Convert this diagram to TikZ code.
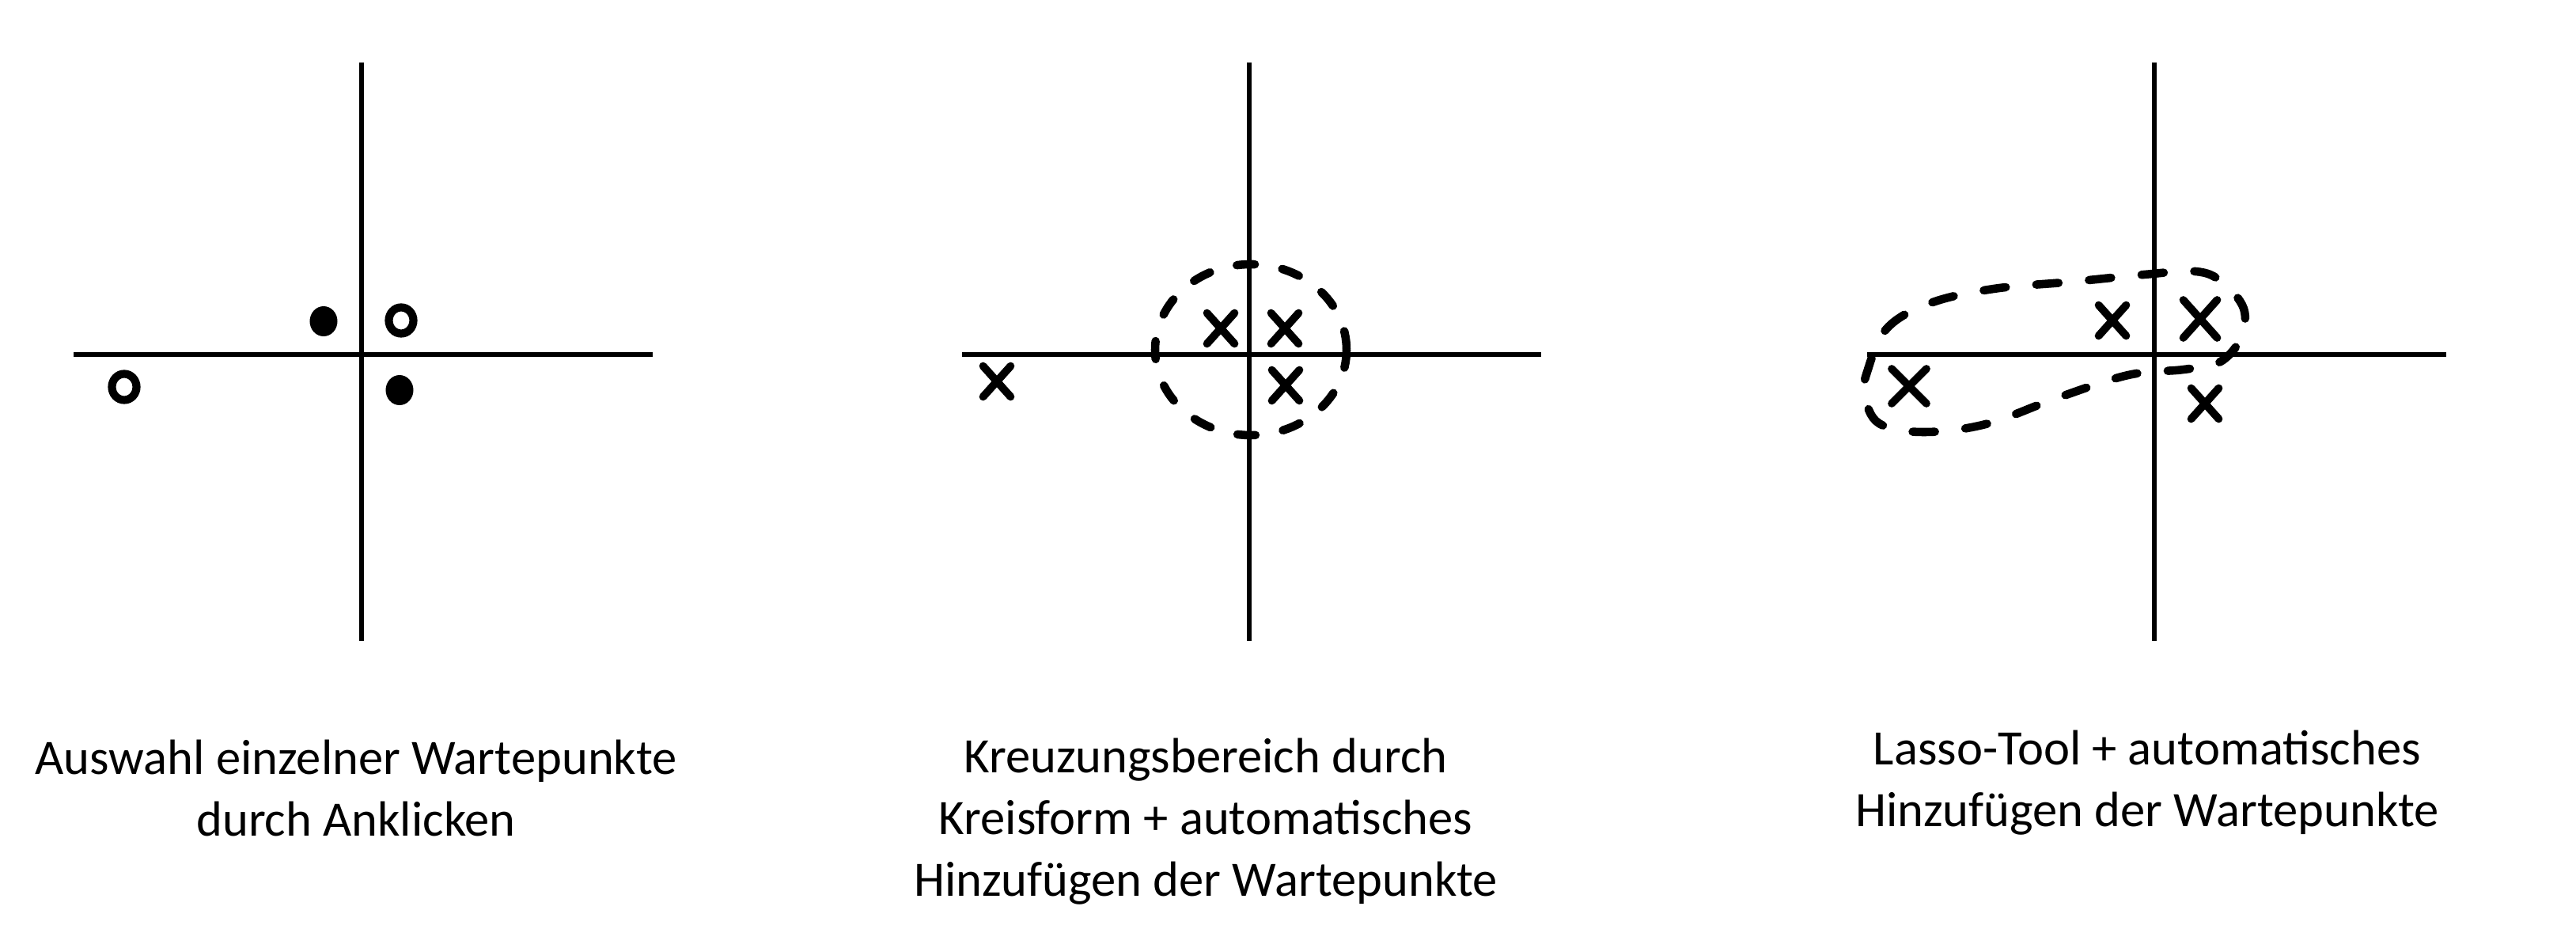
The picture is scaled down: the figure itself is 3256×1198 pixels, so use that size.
\documentclass[tikz,border=0pt]{standalone}
\usepackage{fontspec}
\setmainfont{Carlito}
\usetikzlibrary{shapes.misc,shapes.geometric}
\begin{document}
\begin{tikzpicture}[x=0.01cm,y=-0.01cm,
  axis/.style={line width=1.6pt},
  xmark/.style={cross out, draw, line width=2.8pt, line cap=round, minimum width=0.25cm, minimum height=0.29cm, inner sep=0pt},
  bigxmark/.style={xmark, minimum width=0.33cm, minimum height=0.38cm},
  fdot/.style={ellipse, fill, inner sep=0pt, minimum width=0.35cm, minimum height=0.38cm},
  odot/.style={ellipse, draw, line width=2.9pt, inner sep=0pt, minimum width=0.31cm, minimum height=0.33cm},
  lasso/.style={line width=3pt, line cap=round, dash pattern=on 7pt off 10pt},
  caption/.style={align=center, anchor=north, inner sep=0pt, font=\fontsize{17.8pt}{22.2pt}\selectfont}
]
\fill[white] (0,0) rectangle (3256,1198);
\useasboundingbox (0,0) rectangle (3256,1198);

% Panel 1
\coordinate (a1t) at (457,79); \coordinate (a1b) at (457,810);
\coordinate (a1l) at (93,448); \coordinate (a1r) at (825,448);
\draw[axis] (a1t) -- (a1b);
\draw[axis] (a1l) -- (a1r);
\node[fdot] (p1a) at (409,406) {};
\node[odot] (p1b) at (507,405) {};
\node[odot] (p1c) at (157,489) {};
\node[fdot] (p1d) at (505,493) {};
\node[caption] (t1) at (450,934) {Auswahl einzelner Wartepunkte\\durch Anklicken};

% Panel 2
\coordinate (a2t) at (1579,79); \coordinate (a2b) at (1579,810);
\coordinate (a2l) at (1216,448); \coordinate (a2r) at (1948,448);
\draw[axis] (a2t) -- (a2b);
\draw[axis] (a2l) -- (a2r);
\node[xmark] (p2a) at (1543,415) {};
\node[xmark] (p2b) at (1624,415) {};
\node[xmark] (p2c) at (1625,487) {};
\node[xmark] (p2d) at (1260,482) {};
\coordinate (e2) at (1581,442);
\draw[lasso, dash pattern=on 6.5pt off 10pt] (e2) ellipse [x radius=121, y radius=108];
\node[caption] (t2) at (1524,932) {Kreuzungsbereich durch\\Kreisform + automatisches\\Hinzufügen der Wartepunkte};

% Panel 3
\coordinate (a3t) at (2723,79); \coordinate (a3b) at (2723,810);
\coordinate (a3l) at (2360,448); \coordinate (a3r) at (3092,448);
\draw[axis] (a3t) -- (a3b);
\draw[axis] (a3l) -- (a3r);
\node[xmark] (p3a) at (2670,405) {};
\node[bigxmark] (p3b) at (2781,403) {};
\node[bigxmark, minimum width=0.34cm, minimum height=0.34cm] (p3c) at (2413,488) {};
\node[xmark] (p3d) at (2787,510) {};
\draw[lasso, dash pattern=on 8pt off 11pt] plot[smooth cycle, tension=0.6] coordinates {
  (2360,470) (2385,415) (2440,383) (2520,365) (2620,356) (2710,347)
  (2775,343) (2808,356) (2836,390) (2832,428) (2805,458) (2760,467)
  (2690,474) (2600,503) (2510,536) (2430,546) (2375,535) (2357,500)};
\node[caption] (t3) at (2714,922) {Lasso-Tool + automatisches\\Hinzufügen der Wartepunkte};
\end{tikzpicture}
\end{document}
